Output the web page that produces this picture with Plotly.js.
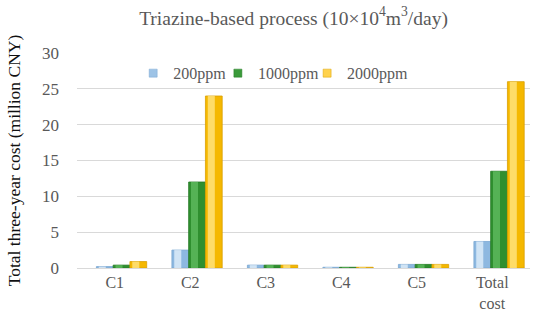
<!DOCTYPE html>
<html>
<head>
<meta charset="utf-8">
<script src="https://cdn.plot.ly/plotly-3.0.1.min.js"></script>
<style>html,body{margin:0;padding:0;background:#fff;}#chart{width:550px;height:323px;}</style>
</head>
<body>
<div id="chart"></div>
<script>
const categories = ["C1", "C2", "C3", "C4", "C5", "Total<br>cost"];
const seriesNames = ["200ppm", "1000ppm", "2000ppm"];
const cost200 = [0.2, 2.5, 0.4, 0.1, 0.5, 3.7];
const cost1000 = [0.4, 12, 0.4, 0.1, 0.5, 13.5];
const cost2000 = [0.9, 24, 0.4, 0.1, 0.5, 26];
const yTicks = [0, 5, 10, 15, 20, 25, 30];

const baseColors = ["#8DB8E0", "#2F8F2F", "#F5B800"];
const lightColors = ["#DCEBF8", "#5CB85C", "#FFE27A"];
const edgeColors = ["#7AA7D2", "#257A25", "#D9A000"];
const legendColors = ["#9DC3E6", "#3A9A3A", "#FFD24D"];
const values = [cost200, cost1000, cost2000];
const legendIds = ["legend", "legend2", "legend3"];
const legendX = [0.124, 0.311, 0.508];

const barW = 0.222;
const shift = 0.09;
const traces = [];
values.forEach((v, i) => {
  const off = -0.333 + i * barW + shift;
  traces.push({
    type: "bar", name: seriesNames[i], x: categories, y: v,
    width: barW, offset: off, showlegend: false,
    marker: { color: baseColors[i], line: { color: edgeColors[i], width: 0.8 } },
    hoverinfo: "x+y+name"
  });
  traces.push({
    type: "bar", name: seriesNames[i] + " hl", x: categories, y: v,
    width: barW * 0.42, offset: off + barW * 0.14, showlegend: false,
    marker: { color: lightColors[i], opacity: 0.85, line: { width: 0 } },
    hoverinfo: "skip"
  });
});
seriesNames.forEach((n, i) => {
  traces.push({
    type: "scatter", mode: "markers", name: n, x: [null], y: [null],
    legend: legendIds[i],
    marker: { symbol: "square", size: 8, color: legendColors[i], line: { color: edgeColors[i], width: 0.5 } },
    showlegend: true, hoverinfo: "skip"
  });
});

const layout = {
  width: 550,
  height: 323,
  margin: { l: 77, r: 20, t: 53, b: 55 },
  paper_bgcolor: "#fff",
  plot_bgcolor: "#fff",
  font: { family: "Liberation Serif, Times New Roman, serif", color: "#595959", size: 15 },
  title: {
    text: "Triazine-based process (10×10<sup>4</sup>m<sup>3</sup>/day)",
    font: { size: 19.5, color: "#595959" },
    x: 0.478, xref: "paper", xanchor: "center", y: 0.945, yanchor: "middle"
  },
  barmode: "overlay",
  xaxis: {
    tickfont: { size: 16, color: "#595959" },
    showgrid: false,
    showline: false,
    zeroline: false,
    ticks: "",
    ticklabelstandoff: 3
  },
  yaxis: {
    range: [0, 30],
    tickvals: yTicks,
    ticktext: yTicks.map(String),
    tickfont: { size: 17, color: "#595959" },
    gridcolor: "#D9D9D9",
    zeroline: true,
    zerolinecolor: "#D9D9D9",
    showline: false,
    ticklen: 0,
    ticklabelstandoff: 17,
    title: { text: "Total three-year cost (million CNY)", font: { size: 17.5, color: "#111" }, standoff: 16 }
  },
  showlegend: true
};
legendIds.forEach((id, i) => {
  layout[id] = {
    orientation: "h",
    x: legendX[i], y: 0.985, xanchor: "left", yanchor: "top",
    font: { size: 16, color: "#595959" },
    bgcolor: "rgba(255,255,255,0)",
    itemwidth: 30
  };
});

Plotly.newPlot("chart", traces, layout, { displayModeBar: false, staticPlot: true });
</script>
</body>
</html>
